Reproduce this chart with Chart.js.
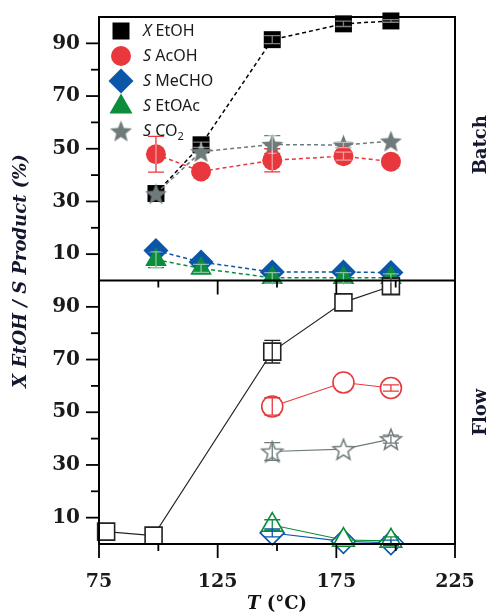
<!DOCTYPE html>
<html>
<head>
<meta charset="UTF-8">
<title>EtOH conversion / product selectivity, batch vs flow</title>
<script src="https://cdn.jsdelivr.net/npm/chart.js"></script>
<style>
  body { margin: 0; background: #fff; }
  #wrap { position: relative; width: 491px; height: 614px; }
</style>
</head>
<body>
<div id="wrap"><canvas id="chart" width="491" height="614"></canvas></div>
<script>
  // temperatures (°C)
  const batchT = [99, 118, 148, 178, 198];
  const flowXT = [78, 98, 148, 178, 198];
  const flowT = [148, 178, 198];

  // batch reactor, top panel (%)
  const batchX = [33, 51.5, 91.4, 97.4, 98.5];
  const batchXErr = [0, 1, 1.5, 1, 0.5];
  const batchAcOH = [47.9, 41.4, 45.6, 47.2, 45.1];
  const batchAcOHErr = [6.8, 0, 4.4, 1.5, 0];
  const batchMeCHO = [11.4, 7.0, 3.2, 3.2, 3.0];
  const batchEtOAc = [7.9, 4.6, 1.0, 1.0, 1.0];
  const batchEtOAcErr = [3, 1.5, 2, 2, 1.5];
  const batchCO2 = [32.9, 48.9, 51.6, 51.4, 52.9];
  const batchCO2Err = [0, 0, 3.4, 1, 0];

  // flow reactor, bottom panel (%)
  const flowX = [4.7, 3.2, 73, 91.7, 97.8];
  const flowXErr = [0, 0, 4.3, 0, 3];
  const flowAcOH = [52.2, 61.3, 59.2];
  const flowAcOHErr = [3.3, 0, 1.2];
  const flowMeCHO = [4.2, 1.0, 0.5];
  const flowMeCHOErr = [1.5, 0, 1];
  const flowEtOAc = [7.2, 1.5, 1.2];
  const flowEtOAcErr = [2, 0, 1.5];
  const flowCO2 = [35.1, 36.0, 39.8];
  const flowCO2Err = [3.4, 0, 1.5];

  const BLACK = '#000000', RED = '#e8383d', BLUE = '#0b56a6', GREEN = '#0b8d3c', GRAY = '#6f7a7a';
  const SERIF = '"DejaVu Serif", "Liberation Serif", serif';
  const INK = '#15172e';

  // 5-point star marker as a canvas, Chart.js draws it centred on the point
  function makeStar(outer, fill, stroke, lw) {
    const s = Math.ceil(outer * 2 + lw + 4);
    const c = document.createElement('canvas');
    c.width = s; c.height = s;
    const g = c.getContext('2d');
    const cx = s / 2, cy = s / 2 + 0.0955 * outer;
    g.beginPath();
    for (let i = 0; i < 10; i++) {
      const r = i % 2 === 0 ? outer : outer * 0.43;
      const a = -Math.PI / 2 + i * Math.PI / 5;
      g.lineTo(cx + r * Math.cos(a), cy + r * Math.sin(a));
    }
    g.closePath();
    if (fill) { g.fillStyle = fill; g.fill(); }
    if (stroke) { g.strokeStyle = stroke; g.lineWidth = lw; g.stroke(); }
    return c;
  }
  const starFull = makeStar(11.5, GRAY, null, 0);
  const starOpen = makeStar(11, '#ffffff', GRAY, 1.5);

  const pts = (xs, ys) => xs.map((x, i) => ({ x: x, y: ys[i] }));

  function batchSet(data, err, color, style, radius) {
    return {
      data: pts(batchT, data), err: err, errMode: 'under', yAxisID: 'yB',
      showLine: true, borderColor: color, borderWidth: 1.5, borderDash: [4, 3],
      pointStyle: style, pointRadius: radius, pointBackgroundColor: color,
      pointBorderColor: color, pointBorderWidth: 0, clip: false
    };
  }
  function flowSet(xs, data, err, color, style, radius) {
    return {
      data: pts(xs, data), err: err, errMode: 'over', yAxisID: 'yF',
      showLine: true, borderColor: color, borderWidth: 1.1,
      pointStyle: style, pointRadius: radius, pointBackgroundColor: '#ffffff',
      pointBorderColor: color, pointBorderWidth: 1.6, clip: false
    };
  }

  // first dataset ends up on top
  const datasets = [
    flowSet(flowXT, flowX, flowXErr, '#222222', 'rect', 12),
    flowSet(flowT, flowAcOH, flowAcOHErr, RED, 'circle', 10.5),
    flowSet(flowT, flowCO2, flowCO2Err, GRAY, starOpen, 11),
    flowSet(flowT, flowEtOAc, flowEtOAcErr, GREEN, 'triangle', 12.5),
    flowSet(flowT, flowMeCHO, flowMeCHOErr, BLUE, 'rectRot', 12),
    batchSet(batchEtOAc, batchEtOAcErr, GREEN, 'triangle', 12.5),
    batchSet(batchMeCHO, null, BLUE, 'rectRot', 12.5),
    batchSet(batchAcOH, batchAcOHErr, RED, 'circle', 10),
    batchSet(batchCO2, batchCO2Err, GRAY, starFull, 11),
    batchSet(batchX, batchXErr, BLACK, 'rect', 12)
  ];

  function drawErr(chart, pass) {
    const ctx = chart.ctx;
    chart.data.datasets.forEach((ds, di) => {
      if (!ds.err) return;
      const meta = chart.getDatasetMeta(di);
      const ys = chart.scales[ds.yAxisID];
      ds.err.forEach((e, i) => {
        if (!e) return;
        const pt = meta.data[i];
        const v = ds.data[i].y;
        const y1 = ys.getPixelForValue(v + e), y2 = ys.getPixelForValue(v - e);
        const x = pt.x, hw = 8;
        ctx.save();
        if (ds.errMode === 'under') {
          if (pass === 'under') {
            ctx.strokeStyle = ds.borderColor;
          } else {
            ctx.beginPath();
            ctx.arc(x, pt.y, 10, 0, Math.PI * 2);
            ctx.clip();
            ctx.strokeStyle = 'rgba(255,255,255,0.5)';
          }
        } else {
          if (pass === 'under') { ctx.restore(); return; }
          ctx.strokeStyle = ds.borderColor;
        }
        ctx.lineWidth = 1.3;
        ctx.beginPath();
        ctx.moveTo(x, y1); ctx.lineTo(x, y2);
        ctx.moveTo(x - hw, y1); ctx.lineTo(x + hw, y1);
        ctx.moveTo(x - hw, y2); ctx.lineTo(x + hw, y2);
        ctx.stroke();
        ctx.restore();
      });
    });
  }

  const errorBars = {
    id: 'errorBars',
    beforeDatasetsDraw(chart) { drawErr(chart, 'under'); },
    afterDatasetsDraw(chart) { drawErr(chart, 'over'); }
  };

  // legend rows: marker + text pieces (italic flag, subscript flag)
  const legendRows = [
    { mark: 'square', color: BLACK, parts: [['X', 'i'], [' EtOH', '']] },
    { mark: 'circle', color: RED, parts: [['S', 'i'], [' AcOH', '']] },
    { mark: 'diamond', color: BLUE, parts: [['S', 'i'], [' MeCHO', '']] },
    { mark: 'triangle', color: GREEN, parts: [['S', 'i'], [' EtOAc', '']] },
    { mark: 'star', color: GRAY, parts: [['S', 'i'], [' CO', ''], ['2', 'sub']] }
  ];

  function drawMark(ctx, mark, color, x, y) {
    ctx.fillStyle = color;
    ctx.beginPath();
    if (mark === 'square') ctx.rect(x - 8.5, y - 8.5, 17, 17);
    else if (mark === 'circle') ctx.arc(x, y, 10, 0, Math.PI * 2);
    else if (mark === 'diamond') { ctx.moveTo(x, y - 12.5); ctx.lineTo(x + 12.5, y); ctx.lineTo(x, y + 12.5); ctx.lineTo(x - 12.5, y); ctx.closePath(); }
    else if (mark === 'triangle') { ctx.moveTo(x, y - 12.5); ctx.lineTo(x + 11.5, y + 7.5); ctx.lineTo(x - 11.5, y + 7.5); ctx.closePath(); }
    else if (mark === 'star') { ctx.drawImage(starFull, x - starFull.width / 2, y - starFull.height / 2); return; }
    ctx.fill();
  }

  const decor = {
    id: 'decor',
    afterDraw(chart) {
      const ctx = chart.ctx;
      const { left, right, top, bottom } = chart.chartArea;
      const yB = chart.scales.yB, yF = chart.scales.yF, xs = chart.scales.x;
      const mid = yB.bottom;
      ctx.save();
      // frame + divider
      ctx.strokeStyle = '#000';
      ctx.lineWidth = 2;
      ctx.strokeRect(left, top, right - left, bottom - top);
      ctx.beginPath(); ctx.moveTo(left, mid); ctx.lineTo(right, mid); ctx.stroke();
      // y tick marks
      ctx.lineWidth = 1.8;
      [yB, yF].forEach(s => {
        s.ticks.forEach(t => {
          if (t.value <= 0 || t.value >= 100) return;
          const len = t.value % 20 === 10 ? 13 : 8;
          const py = s.getPixelForValue(t.value);
          ctx.beginPath(); ctx.moveTo(left, py); ctx.lineTo(left - len, py); ctx.stroke();
        });
      });
      // x tick marks, below the divider and below the axis
      xs.ticks.forEach(t => {
        const len = (t.value - 75) % 50 === 0 ? 14 : 7;
        const px = xs.getPixelForValue(t.value);
        [mid, bottom].forEach(b => {
          ctx.beginPath(); ctx.moveTo(px, b); ctx.lineTo(px, b + len); ctx.stroke();
        });
      });

      // y title
      ctx.fillStyle = INK;
      ctx.font = 'italic bold 18px ' + SERIF;
      ctx.textAlign = 'center';
      ctx.textBaseline = 'middle';
      ctx.save();
      ctx.translate(21, 271);
      ctx.rotate(-Math.PI / 2);
      ctx.fillText('X EtOH / S Product (%)', 0, 0);
      ctx.restore();

      // panel names on the right
      ctx.font = 'bold 18px ' + SERIF;
      [['Batch', (yB.top + yB.bottom) / 2 - 4], ['Flow', (yF.top + yF.bottom) / 2]].forEach(([txt, cy]) => {
        ctx.save();
        ctx.translate(481, cy);
        ctx.rotate(-Math.PI / 2);
        ctx.fillText(txt, 0, 0);
        ctx.restore();
      });

      // x title: italic T + (°C)
      ctx.fillStyle = '#111';
      ctx.textAlign = 'left';
      const fI = 'italic bold 18px ' + SERIF, fN = 'bold 18px ' + SERIF;
      ctx.font = fI; const wT = ctx.measureText('T').width;
      ctx.font = fN; const wR = ctx.measureText(' (°C)').width;
      let tx = (left + right) / 2 - (wT + wR) / 2;
      ctx.font = fI; ctx.fillText('T', tx, 604);
      ctx.font = fN; ctx.fillText(' (°C)', tx + wT, 604);

      // legend
      legendRows.forEach((row, i) => {
        const cy = 31 + i * 25;
        drawMark(ctx, row.mark, row.color, 121, cy);
        let x = 143;
        ctx.fillStyle = '#1a1a1a';
        row.parts.forEach(([txt, st]) => {
          let yy = cy;
          if (st === 'i') ctx.font = 'italic 16px "Noto Sans", sans-serif';
          else if (st === 'sub') { ctx.font = '11px "Noto Sans", sans-serif'; yy = cy + 6; }
          else ctx.font = '16px "Noto Sans", sans-serif';
          ctx.fillText(txt, x, yy);
          x += ctx.measureText(txt).width;
        });
      });
      ctx.restore();
    }
  };

  const yTicks = {
    stepSize: 10, autoSkip: false, padding: 19, color: '#1a1a1a',
    font: { family: SERIF, weight: 'bold', size: 20 },
    callback: v => (v % 20 === 10 ? String(v) : '')
  };
  // fixed axis box sizes, no label overhang padding
  const fitY = s => { s.width = 99; s.paddingTop = 0; s.paddingBottom = 0; };
  const fitX = s => { s.height = 70; s.paddingLeft = 0; s.paddingRight = 0; };

  new Chart(document.getElementById('chart'), {
    type: 'scatter',
    data: { datasets: datasets },
    options: {
      responsive: false,
      animation: false,
      layout: { padding: { top: 17, right: 36, left: 0, bottom: 0 } },
      plugins: { legend: { display: false }, tooltip: { enabled: false } },
      elements: { line: { tension: 0 } },
      scales: {
        x: {
          type: 'linear', min: 75, max: 225,
          grid: { display: false, drawTicks: false }, border: { display: false },
          ticks: {
            stepSize: 25, autoSkip: false, maxRotation: 0, padding: 27, color: '#1a1a1a',
            font: { family: SERIF, weight: 'bold', size: 19 },
            callback: v => ((v - 75) % 50 === 0 ? String(v) : '')
          },
          afterFit: fitX
        },
        yF: {
          type: 'linear', position: 'left', stack: 'panels', stackWeight: 1,
          min: 0, max: 100, grid: { display: false, drawTicks: false }, border: { display: false },
          ticks: yTicks, afterFit: fitY
        },
        yB: {
          type: 'linear', position: 'left', stack: 'panels', stackWeight: 1,
          min: 0, max: 100, grid: { display: false, drawTicks: false }, border: { display: false },
          ticks: yTicks, afterFit: fitY
        }
      }
    },
    plugins: [errorBars, decor]
  });
</script>
</body>
</html>
